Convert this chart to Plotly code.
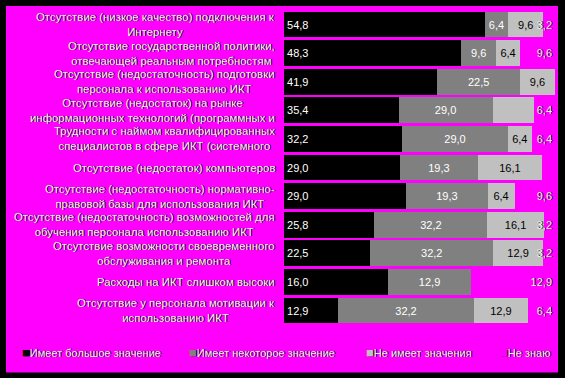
import plotly.graph_objects as go

categories = [
    "Отсутствие (низкое качество) подключения к<br>Интернету",
    "Отсутствие государственной политики,<br>отвечающей реальным потребностям",
    "Отсутствие (недостаточность) подготовки<br>персонала к использованию ИКТ",
    "Отсутствие (недостаток) на рынке<br>информационных технологий (программных и",
    "Трудности с наймом квалифицированных<br>специалистов в сфере ИКТ (системного",
    "Отсутствие (недостаток) компьютеров",
    "Отсутствие (недостаточность) нормативно-<br>правовой базы для использования ИКТ",
    "Отсутствие (недостаточность) возможностей для<br>обучения персонала использованию ИКТ",
    "Отсутствие возможности своевременного<br>обслуживания и ремонта",
    "Расходы на ИКТ слишком высоки",
    "Отсутствие у персонала мотивации к<br>использованию ИКТ",
]

series_names = ["Имеет большое значение", "Имеет некоторое значение",
                "Не имеет значения", "Не знаю"]
big = [54.8, 48.3, 41.9, 35.4, 32.2, 29.0, 29.0, 25.8, 22.5, 16.0, 12.9]
some = [6.4, 9.6, 22.5, 29.0, 29.0, 19.3, 19.3, 32.2, 32.2, 12.9, 32.2]
none_ = [9.6, 6.4, 9.6, 12.9, 6.4, 16.1, 6.4, 16.1, 12.9, 0.0, 12.9]
dunno = [3.2, 9.6, 0.0, 6.4, 6.4, 3.2, 9.6, 3.2, 3.2, 12.9, 6.4]
# labels not shown in the reference
hidden = {2: [3], 3: [5]}

colors = ["#000000", "#808080", "#C0C0C0", "#FF00FF"]
label_colors = ["#FFFFFF", "#FFFFFF", "#000000", "#F4F4F4"]
anchors = ["start", "middle", "middle", "end"]

MAG = "#FF00FF"
FONT = "Liberation Sans, Arial, sans-serif"
SHADOW = "1px 0px 0px #000000"


def fmt(v):
    return f"{v:.1f}".replace(".", ",")


fig = go.Figure()
for i, (name, vals) in enumerate(zip(series_names, [big, some, none_, dunno])):
    labels = []
    for j, v in enumerate(vals):
        if v == 0 or j in hidden.get(i, []):
            labels.append("")
        else:
            labels.append(fmt(v))
    tf = dict(family=FONT, size=11, color=label_colors[i])
    if i == 3:
        tf["shadow"] = SHADOW
    fig.add_trace(go.Bar(
        y=categories, x=vals, name=name, orientation="h",
        marker=dict(color=colors[i], line=dict(width=0)),
        text=labels, textposition="inside", insidetextanchor=anchors[i],
        textangle=0, constraintext="none", textfont=tf,
        hoverinfo="x+y", showlegend=False,
    ))

# category labels (centered multi-line blocks, right-aligned to the plot)
for c in categories:
    fig.add_annotation(
        x=0, xref="paper", y=c, yref="y", xanchor="right", xshift=-7,
        text=c, showarrow=False, align="center",
        font=dict(family=FONT, size=11.4, color="#F4F4F4", shadow=SHADOW),
    )

# legend row
legend_x = [-0.974, -0.358, 0.295, 0.79]
for name, col, lx in zip(series_names, colors, legend_x):
    fig.add_annotation(
        x=lx, xref="paper", y=-0.085, yref="paper", xanchor="left",
        yanchor="middle", showarrow=False,
        text=f'<span style="color:{col};font-size:13px">■</span>{name}',
        font=dict(family=FONT, size=11, color="#F4F4F4", shadow=SHADOW),
    )

fig.add_shape(type="rect", xref="paper", yref="paper",
              x0=-1.02583, x1=1.01107, y0=-0.14669, y1=1.00946,
              fillcolor=MAG, line=dict(width=0), layer="below")

fig.update_layout(
    width=565, height=378,
    margin=dict(l=284, r=10, t=9, b=52),
    paper_bgcolor="#000000", plot_bgcolor=MAG,
    barmode="stack", barnorm="percent", bargap=0.1,
    xaxis=dict(range=[0, 100], visible=False, fixedrange=True),
    yaxis=dict(autorange="reversed", showticklabels=False, showgrid=False,
               zeroline=False, fixedrange=True),
    showlegend=False,
)

fig.write_html(
    "out.html",
    config={"displayModeBar": False},
    post_script="document.body.style.margin='0';document.body.style.overflow='hidden';",
)
